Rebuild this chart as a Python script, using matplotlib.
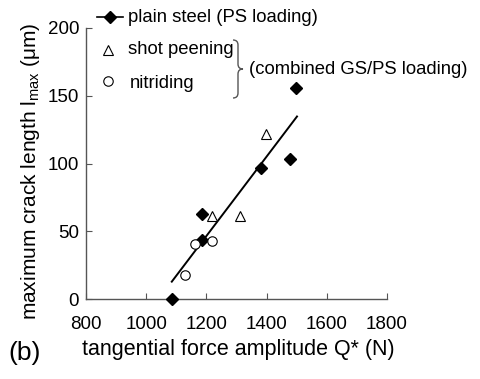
import matplotlib
matplotlib.use("Agg")
import matplotlib.pyplot as plt
from matplotlib.lines import Line2D
from matplotlib.path import Path
from matplotlib.patches import PathPatch

plt.rcParams['font.family'] = ['Liberation Sans', 'DejaVu Sans']
plt.rcParams['mathtext.fontset'] = 'custom'
plt.rcParams['mathtext.rm'] = 'Liberation Sans'
plt.rcParams['mathtext.default'] = 'regular'

# data
plain_q = [1085, 1186, 1186, 1380, 1479, 1499]
plain_l = [0, 62.8, 43.6, 96.8, 103, 155.7]
shot_q = [1218, 1311, 1397]
shot_l = [61.3, 61.6, 121.7]
nitr_q = [1129, 1162, 1217]
nitr_l = [18, 40.4, 42.9]
fit_q = [1085, 1501]
fit_l = [12.8, 134.7]

xticks = [800, 1000, 1200, 1400, 1600, 1800]
yticks = [0, 50, 100, 150, 200]

W, H = 481, 379
fig = plt.figure(figsize=(W / 100, H / 100), dpi=100)
ax = fig.add_axes([86 / W, 1 - 299 / H, (387 - 86) / W, (299 - 28) / H])

axcol = '#555555'
ax.plot(fit_q, fit_l, color='black', lw=1.4, zorder=2)
ax.plot(plain_q, plain_l, 'D', color='black', ms=6, ls='none', clip_on=False, zorder=3)
ax.plot(shot_q, shot_l, '^', mfc='white', mec='black', mew=0.8, ms=7, ls='none', zorder=3)
ax.plot(nitr_q, nitr_l, 'o', mfc='white', mec='black', mew=0.8, ms=6.8, ls='none', zorder=3)

ax.set_xlim(800, 1800)
ax.set_ylim(0, 200)
ax.set_xticks(xticks)
ax.set_yticks(yticks)
for s in ['top', 'right']:
    ax.spines[s].set_visible(False)
for s in ['left', 'bottom']:
    ax.spines[s].set_color(axcol)
    ax.spines[s].set_linewidth(1.0)
ax.tick_params(direction='in', length=4, width=0.8, color=axcol, labelsize=13.5)
ax.tick_params(axis='x', pad=12)
ax.tick_params(axis='y', pad=5)

# axis labels
fig.text(31 / 481, 1 - 171 / 379, 'maximum crack length l$_{max}$ (μm)', rotation=90,
         ha='center', va='center', fontsize=15)
fig.text(238 / 481, 1 - 350 / 379, 'tangential force amplitude Q* (N)',
         ha='center', va='center', fontsize=15.5)
fig.text(8 / 481, 1 - 353 / 379, '(b)', ha='left', va='center', fontsize=19)

# hand made legend
def fx(px):
    return px / W

def fy(py):
    return 1 - py / H

fig.add_artist(Line2D([fx(97), fx(123)], [fy(17), fy(17)], color='black', lw=1.2))
fig.add_artist(Line2D([fx(110)], [fy(17)], color='black', marker='D', ms=6, ls='none'))
fig.add_artist(Line2D([fx(108)], [fy(50)], marker='^', mfc='white', mec='black',
                      mew=0.8, ms=7, ls='none'))
fig.add_artist(Line2D([fx(108)], [fy(81)], marker='o', mfc='white', mec='black',
                      mew=0.8, ms=6.8, ls='none'))
fig.text(fx(128), fy(17), 'plain steel (PS loading)', ha='left', va='center', fontsize=13.3)
fig.text(fx(128), fy(50), 'shot peening', ha='left', va='center', fontsize=13.3)
fig.text(fx(130), fy(83), 'nitriding', ha='left', va='center', fontsize=13.3)
fig.text(fx(249), fy(70), '(combined GS/PS loading)', ha='left', va='center', fontsize=13.3)

# curly brace
pts = [(233, 40), (238, 40), (238, 45), (238, 45),
       (238, 64), (238, 64), (238, 69), (243, 69),
       (238, 69), (238, 74), (238, 74), (238, 74),
       (238, 93), (238, 93), (238, 98), (233, 98)]
verts = [(fx(x), fy(y)) for x, y in pts]
codes = [Path.MOVETO, Path.CURVE3, Path.CURVE3, Path.LINETO,
         Path.LINETO, Path.LINETO, Path.CURVE3, Path.CURVE3,
         Path.CURVE3, Path.CURVE3, Path.LINETO, Path.LINETO,
         Path.LINETO, Path.LINETO, Path.CURVE3, Path.CURVE3]
brace = PathPatch(Path(verts, codes), transform=fig.transFigure, fill=False,
                  edgecolor=axcol, lw=1.0)
fig.add_artist(brace)

fig.savefig('out.png', dpi=100)
